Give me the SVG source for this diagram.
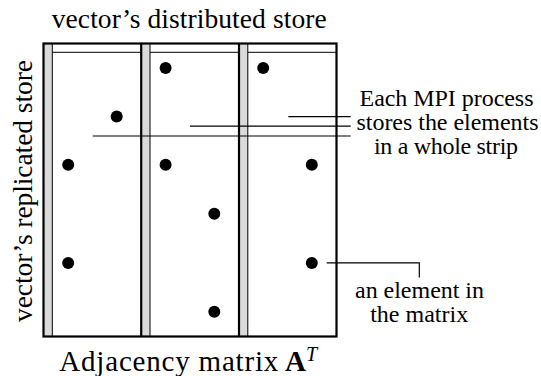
<svg xmlns="http://www.w3.org/2000/svg" width="541" height="376" viewBox="0 0 541 376">
  <style>
    .thick { stroke: #000; stroke-width: 2.2; fill: none; }
    .thin { stroke: #000; stroke-width: 1; fill: none; }
    .bar { fill: #dadada; stroke: none; }
    .lead { stroke: #000; stroke-width: 1.2; fill: none; }
    .dot { fill: #000; }
  </style>
  <rect width="541" height="376" fill="#fff"/>

  <g id="matrix">
    <rect class="bar" x="43.5" y="43.5" width="8.8" height="293"/>
    <rect class="bar" x="141.2" y="43.5" width="8.8" height="293"/>
    <rect class="bar" x="239" y="43.5" width="8.8" height="293"/>
    <line class="thin" x1="52.3" y1="43.5" x2="52.3" y2="336.5"/>
    <line class="thin" x1="150" y1="43.5" x2="150" y2="336.5"/>
    <line class="thin" x1="247.8" y1="43.5" x2="247.8" y2="336.5"/>
    <line class="thin" x1="52.3" y1="52.3" x2="141.2" y2="52.3"/>
    <line class="thin" x1="150" y1="52.3" x2="239" y2="52.3"/>
    <line class="thin" x1="247.8" y1="52.3" x2="336.5" y2="52.3"/>
    <line class="thick" x1="141.2" y1="43.5" x2="141.2" y2="336.5"/>
    <line class="thick" x1="239" y1="43.5" x2="239" y2="336.5"/>
    <rect class="thick" x="43.5" y="43.5" width="293" height="293"/>
  </g>

  <g id="elements">
    <circle class="dot" cx="165.6" cy="68" r="6"/>
    <circle class="dot" cx="263.2" cy="68" r="6"/>
    <circle class="dot" cx="116.7" cy="116.5" r="6"/>
    <circle class="dot" cx="68.2" cy="164.8" r="6"/>
    <circle class="dot" cx="165.6" cy="164.8" r="6"/>
    <circle class="dot" cx="311.8" cy="164.8" r="6"/>
    <circle class="dot" cx="214.3" cy="213.8" r="6"/>
    <circle class="dot" cx="68.2" cy="263" r="6"/>
    <circle class="dot" cx="311.8" cy="263" r="6"/>
    <circle class="dot" cx="214.3" cy="311.7" r="6"/>
  </g>

  <g id="connectors">
    <line class="lead" x1="288.3" y1="116.7" x2="350.7" y2="116.7"/>
    <line class="lead" x1="190" y1="126.2" x2="350.7" y2="126.2"/>
    <line class="lead" x1="92.7" y1="136" x2="350.7" y2="136"/>
    <polyline class="lead" points="326.7,262.8 419.3,262.8 419.3,277.5"/>
  </g>

  <g id="labels" font-family="'Liberation Serif', 'Times New Roman', serif" fill="#000">
    <g id="label-top">
      <text x="189.2" y="28" font-size="27.5" text-anchor="middle" textLength="275" lengthAdjust="spacing">vector’s distributed store</text>
    </g>
    <g id="label-left">
      <text transform="translate(31.5,191) rotate(-90)" x="0" y="0" font-size="27.5" text-anchor="middle" textLength="262" lengthAdjust="spacing">vector’s replicated store</text>
    </g>
    <g id="label-strip">
      <text x="446.5" y="106" font-size="24" text-anchor="middle" textLength="174" lengthAdjust="spacing">Each MPI process</text>
      <text x="447.5" y="130" font-size="24" text-anchor="middle" textLength="182" lengthAdjust="spacing">stores the elements</text>
      <text x="446" y="154" font-size="24" text-anchor="middle" textLength="144" lengthAdjust="spacing">in a whole strip</text>
    </g>
    <g id="label-element">
      <text x="419.5" y="297.5" font-size="24" text-anchor="middle" textLength="129" lengthAdjust="spacing">an element in</text>
      <text x="419.2" y="321.7" font-size="24" text-anchor="middle" textLength="98" lengthAdjust="spacing">the matrix</text>
    </g>
    <g id="label-bottom">
      <text x="59.3" y="371" font-size="29" textLength="219" lengthAdjust="spacing">Adjacency matrix</text>
      <text x="285" y="371" font-size="29" font-weight="bold">A</text>
      <text x="306" y="361" font-size="20" font-style="italic">T</text>
    </g>
  </g>
</svg>
